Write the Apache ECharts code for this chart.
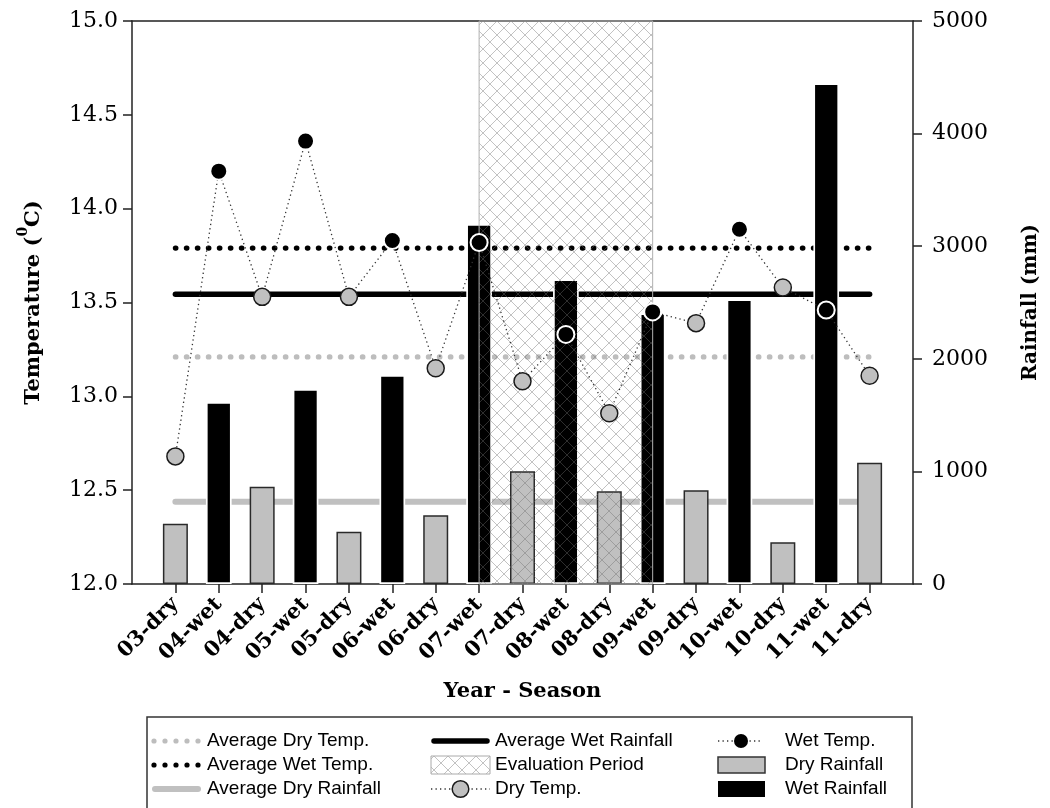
<!DOCTYPE html>
<html><head><meta charset="utf-8">
<script src="https://cdn.jsdelivr.net/npm/echarts@6/dist/echarts.min.js"></script>
<style>html,body{margin:0;padding:0;background:#fff}#c{width:1050px;height:808px}</style>
</head><body><div id="c"></div>
<script>
// ---------- data ----------
const categories = ['03-dry','04-wet','04-dry','05-wet','05-dry','06-wet','06-dry','07-wet','07-dry','08-wet','08-dry','09-wet','09-dry','10-wet','10-dry','11-wet','11-dry'];
const dryCats = ['03-dry','04-dry','05-dry','06-dry','07-dry','08-dry','09-dry','10-dry','11-dry'];
const wetCats = ['04-wet','05-wet','06-wet','07-wet','08-wet','09-wet','10-wet','11-wet'];
const dryRain = [535, 864, 465, 610, 1001, 823, 832, 370, 1077];
const wetRain = [1616, 1732, 1856, 3197, 2706, 2404, 2528, 4447];
const dryTemp = [12.68, 13.53, 13.53, 13.15, 13.08, 12.91, 13.39, 13.58, 13.11];
const wetTemp = [14.20, 14.36, 13.83, 13.82, 13.33, 13.45, 13.89, 13.46];
const avgDryTemp = 13.21;
const avgWetTemp = 13.79;
const avgDryRain = 731;
const avgWetRain = 2573;
const evalStart = '07-wet';
const evalEnd = '09-wet';
const tempRange = [12, 15, 0.5];
const rainRange = [0, 5000, 1000];

// ---------- helpers ----------
const padded = [' '].concat(categories).concat(['  ']);
const inner = (i) => i > 0 && i < padded.length - 1;
const serif = '"DejaVu Serif", serif';
const sans = '"Liberation Sans", Arial, sans-serif';

function makeHatch() {
  const s = 14, c = document.createElement('canvas');
  c.width = s; c.height = s;
  const g = c.getContext('2d');
  g.strokeStyle = 'rgba(110,110,110,0.42)';
  g.lineWidth = 1;
  g.beginPath();
  g.moveTo(0, 0); g.lineTo(s, s);
  g.moveTo(s, 0); g.lineTo(0, s);
  g.stroke();
  return c;
}
const hatch = { image: makeHatch(), repeat: 'repeat' };

const tempByCat = {};
dryCats.forEach((c, i) => tempByCat[c] = dryTemp[i]);
wetCats.forEach((c, i) => tempByCat[c] = wetTemp[i]);
const tempLine = categories.map(c => [c, tempByCat[c]]);

const axisLineStyle = { color: '#222', width: 1.5 };
const xAxisBase = {
  type: 'category', data: padded, boundaryGap: false,
  axisLine: { show: true, onZero: false, lineStyle: axisLineStyle },
  splitLine: { show: false }
};

// ---------- legend (graphic) ----------
const rows = [741, 765, 789];
const c1 = 152, c2 = 431, c3 = 718;
const g = [];
g.push({ type: 'rect', shape: { x: 147, y: 717, width: 765, height: 100 }, style: { fill: '#fff', stroke: '#333', lineWidth: 1.5 } });
for (let k = 0; k < 5; k++) {
  g.push({ type: 'circle', shape: { cx: c1 + 2 + k * 11, cy: rows[0], r: 2.6 }, style: { fill: '#bdbdbd' } });
  g.push({ type: 'circle', shape: { cx: c1 + 2 + k * 11, cy: rows[1], r: 2.6 }, style: { fill: '#000' } });
}
g.push({ type: 'line', shape: { x1: c1 + 3, y1: rows[2], x2: c1 + 46, y2: rows[2] }, style: { stroke: '#c0c0c0', lineWidth: 6, lineCap: 'round' } });
g.push({ type: 'line', shape: { x1: c2 + 3, y1: rows[0], x2: c2 + 56, y2: rows[0] }, style: { stroke: '#000', lineWidth: 5.5, lineCap: 'round' } });
g.push({ type: 'rect', shape: { x: c2, y: rows[1] - 9, width: 59, height: 18 }, style: { fill: hatch, stroke: '#aaa', lineWidth: 1 } });
g.push({ type: 'line', shape: { x1: c2, y1: rows[2], x2: c2 + 59, y2: rows[2] }, style: { stroke: '#333', lineWidth: 1.3, lineDash: [1.3, 3.2] } });
g.push({ type: 'circle', shape: { cx: c2 + 29.5, cy: rows[2], r: 8.3 }, style: { fill: '#c0c0c0', stroke: '#1a1a1a', lineWidth: 1.5 } });
g.push({ type: 'line', shape: { x1: c3, y1: rows[0], x2: c3 + 45, y2: rows[0] }, style: { stroke: '#333', lineWidth: 1.3, lineDash: [1.3, 3.2] } });
g.push({ type: 'circle', shape: { cx: c3 + 23, cy: rows[0], r: 7 }, style: { fill: '#000' } });
g.push({ type: 'rect', shape: { x: c3, y: rows[1] - 8, width: 47, height: 16 }, style: { fill: '#c0c0c0', stroke: '#333', lineWidth: 1.5 } });
g.push({ type: 'rect', shape: { x: c3, y: rows[2] - 8, width: 47, height: 16 }, style: { fill: '#000' } });
const texts = [
  [207, rows[0], 'Average Dry Temp.'], [207, rows[1], 'Average Wet Temp.'], [207, rows[2], 'Average Dry Rainfall'],
  [495, rows[0], 'Average Wet Rainfall'], [495, rows[1], 'Evaluation Period'], [495, rows[2], 'Dry Temp.'],
  [785, rows[0], 'Wet Temp.'], [785, rows[1], 'Dry Rainfall'], [785, rows[2], 'Wet Rainfall']
];
texts.forEach(t => g.push({ type: 'text', style: { x: t[0], y: t[1], text: t[2], fontSize: 19, fontFamily: sans, fill: '#000', verticalAlign: 'middle' } }));

// ---------- chart ----------
const chart = echarts.init(document.getElementById('c'), null, { renderer: 'canvas' });
chart.setOption({
  animation: false,
  backgroundColor: '#fff',
  grid: { left: 132, right: 137, top: 21, bottom: 224, containLabel: false },
  xAxis: [
    Object.assign({}, xAxisBase, {
      position: 'bottom',
      name: 'Year - Season', nameLocation: 'middle', nameGap: 97,
      nameTextStyle: { fontFamily: serif, fontWeight: 'bold', fontSize: 21, color: '#000' },
      axisTick: { show: true, interval: inner, length: 9, lineStyle: { color: '#222', width: 1.5 } },
      axisLabel: { show: true, interval: inner, rotate: 45, margin: 17, fontFamily: serif, fontWeight: 'bold', fontSize: 21, color: '#000' }
    }),
    Object.assign({}, xAxisBase, {
      position: 'top',
      axisTick: { show: false }, axisLabel: { show: false }
    })
  ],
  yAxis: [
    {
      type: 'value', position: 'left', min: tempRange[0], max: tempRange[1], interval: tempRange[2],
      name: '{a|Temperature (}{s|0}{a|C)}', nameLocation: 'middle', nameGap: 88,
      nameTextStyle: { rich: {
        a: { fontFamily: serif, fontWeight: 'bold', fontSize: 21, color: '#000', lineHeight: 28, verticalAlign: 'bottom' },
        s: { fontFamily: serif, fontWeight: 'bold', fontSize: 14, color: '#000', lineHeight: 28, verticalAlign: 'top' }
      } },
      axisLine: { show: true, lineStyle: axisLineStyle },
      axisTick: { show: true, length: 9, lineStyle: { color: '#222', width: 1.5 } },
      axisLabel: { margin: 14, fontFamily: serif, fontSize: 22, color: '#000', formatter: v => v.toFixed(1) },
      splitLine: { show: false }
    },
    {
      type: 'value', position: 'right', min: rainRange[0], max: rainRange[1], interval: rainRange[2],
      name: 'Rainfall (mm)', nameLocation: 'middle', nameGap: 108,
      nameTextStyle: { fontFamily: serif, fontWeight: 'bold', fontSize: 20, color: '#000' },
      axisLine: { show: true, lineStyle: axisLineStyle },
      axisTick: { show: true, length: 9, lineStyle: { color: '#222', width: 1.5 } },
      axisLabel: { margin: 19, fontFamily: serif, fontSize: 22, color: '#000', formatter: v => String(v) },
      splitLine: { show: false }
    }
  ],
  series: [
    { name: 'Average Dry Temp.', type: 'line', xAxisIndex: 0, yAxisIndex: 0, z: 1, symbol: 'none', silent: true,
      data: [[categories[0], avgDryTemp], [categories[categories.length - 1], avgDryTemp]],
      lineStyle: { color: '#bdbdbd', width: 5.2, type: [0.5, 10.5], cap: 'round' } },
    { name: 'Average Wet Temp.', type: 'line', xAxisIndex: 0, yAxisIndex: 0, z: 1, symbol: 'none', silent: true,
      data: [[categories[0], avgWetTemp], [categories[categories.length - 1], avgWetTemp]],
      lineStyle: { color: '#000', width: 5.2, type: [0.5, 10.5], cap: 'round' } },
    { name: 'Average Dry Rainfall', type: 'line', xAxisIndex: 0, yAxisIndex: 1, z: 1, symbol: 'none', silent: true,
      data: [[categories[0], avgDryRain], [categories[categories.length - 1], avgDryRain]],
      lineStyle: { color: '#c0c0c0', width: 6, cap: 'round' } },
    { name: 'Average Wet Rainfall', type: 'line', xAxisIndex: 0, yAxisIndex: 1, z: 1, symbol: 'none', silent: true,
      data: [[categories[0], avgWetRain], [categories[categories.length - 1], avgWetRain]],
      lineStyle: { color: '#000', width: 5.5, cap: 'round' } },
    { name: 'Dry Rainfall', type: 'bar', xAxisIndex: 0, yAxisIndex: 1, z: 2, barWidth: 25,
      data: dryCats.map((c, i) => [c, dryRain[i]]),
      itemStyle: { color: '#c0c0c0', borderColor: '#2a2a2a', borderWidth: 1.5 } },
    { name: 'Wet Rainfall', type: 'bar', xAxisIndex: 1, yAxisIndex: 1, z: 2, barWidth: 25.7,
      data: wetCats.map((c, i) => [c, wetRain[i]]),
      itemStyle: { color: '#000', borderColor: '#fff', borderWidth: 1.7 } },
    { name: 'Evaluation Period', type: 'line', xAxisIndex: 0, yAxisIndex: 0, z: 3, data: [], silent: true,
      markArea: { z: 3, silent: true, itemStyle: { color: hatch, borderColor: '#b0b0b0', borderWidth: 1 },
        data: [[{ xAxis: evalStart }, { xAxis: evalEnd }]] } },
    { name: 'Temp. line', type: 'line', xAxisIndex: 0, yAxisIndex: 0, z: 4, symbol: 'none', silent: true,
      data: tempLine, lineStyle: { color: '#333', width: 1.3, type: [1.3, 3.2] } },
    { name: 'Dry Temp.', type: 'scatter', xAxisIndex: 0, yAxisIndex: 0, z: 5, symbolSize: 17,
      data: dryCats.map((c, i) => [c, dryTemp[i]]),
      itemStyle: { color: '#c0c0c0', borderColor: '#1a1a1a', borderWidth: 1.5, opacity: 1 } },
    { name: 'Wet Temp.', type: 'scatter', xAxisIndex: 0, yAxisIndex: 0, z: 5, symbolSize: 17,
      data: wetCats.map((c, i) => [c, wetTemp[i]]),
      itemStyle: { color: '#000', borderColor: '#fff', borderWidth: 2, opacity: 1 } }
  ],
  graphic: { elements: g }
});
</script></body></html>
